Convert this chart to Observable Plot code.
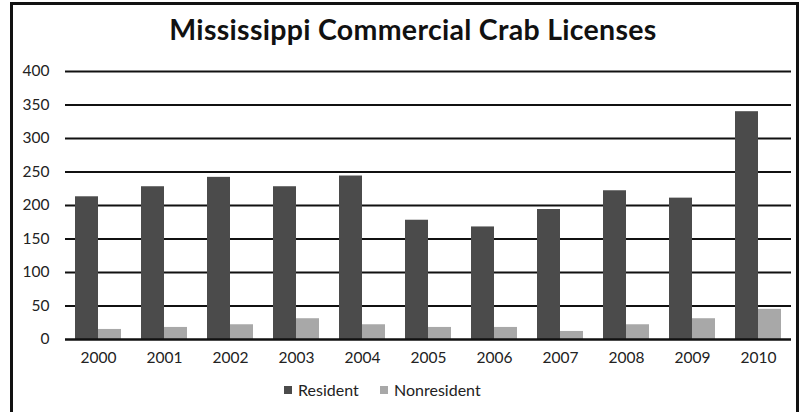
<!DOCTYPE html>
<html>
<head>
<meta charset="utf-8">
<script src="https://cdn.jsdelivr.net/npm/d3@7"></script>
<script src="https://cdn.jsdelivr.net/npm/@observablehq/plot@0.6"></script>
<style>
  html, body { margin: 0; padding: 0; background: #fff; }
  body { width: 801px; height: 412px; overflow: hidden; position: relative; font-family: Lato, "Open Sans", sans-serif; }
  #frame { position: absolute; left: 10px; top: 2px; width: 789px; height: 440px; box-sizing: border-box; border: 3px solid #111; pointer-events: none; }
  #title { height: 56px; box-sizing: border-box; padding-top: 13px; padding-left: 25px; text-align: center; font-weight: bold; font-size: 28.5px; letter-spacing: 0.3px; line-height: 32px; color: #111; white-space: nowrap; }
  #chart svg { display: block; }
  #legend { position: relative; height: 46px; font-size: 16px; color: #222; }
  .item { position: absolute; top: 14px; display: flex; align-items: center; line-height: 20px; }
  .sw { width: 8px; height: 8px; margin-right: 6px; }
</style>
</head>
<body>
<div id="title">Mississippi Commercial Crab Licenses</div>
<div id="chart"></div>
<div id="legend"></div>
<div id="frame"></div>
<script>
const years = ["2000","2001","2002","2003","2004","2005","2006","2007","2008","2009","2010"];
const series = ["Resident", "Nonresident"];
const resident = [213, 228, 242, 228, 244, 178, 168, 194, 222, 211, 340];
const nonresident = [15, 18, 22, 31, 22, 18, 18, 12, 22, 31, 45];
const yTicks = [0, 50, 100, 150, 200, 250, 300, 350, 400];
const colors = ["#4b4b4b", "#a8a8a8"];

const rows = [];
years.forEach((y, i) => {
  rows.push({year: y, series: series[0], value: resident[i]});
  rows.push({year: y, series: series[1], value: nonresident[i]});
});

const chart = Plot.plot({
  width: 801,
  height: 310,
  marginLeft: 61,
  marginRight: 6,
  marginTop: 15,
  marginBottom: 27,
  style: {fontFamily: "Lato, 'Open Sans', sans-serif", fontSize: "15.5px", color: "#222", background: "transparent"},
  facet: {data: rows, x: "year", label: null},
  fx: {domain: years, padding: 0, tickSize: 0, tickPadding: 12, label: null},
  x: {domain: series, paddingInner: 0, paddingOuter: 0.39, axis: null},
  y: {domain: [0, 400], ticks: yTicks, tickSize: 0, tickPadding: 16, label: null},
  color: {domain: series, range: colors},
  marks: [
    Plot.ruleY(yTicks.filter(d => d > 0), {stroke: "#111", strokeWidth: 2}),
    Plot.barY(rows, {x: "series", y: "value", fill: "series"}),
    Plot.ruleY([0], {stroke: "#111", strokeWidth: 2.5})
  ]
});
document.getElementById("chart").appendChild(chart);

const legend = document.getElementById("legend");
const lx = [284, 380];
series.forEach((s, i) => {
  const it = document.createElement("div");
  it.className = "item";
  it.style.left = lx[i] + "px";
  const sw = document.createElement("span");
  sw.className = "sw";
  sw.style.background = colors[i];
  const tx = document.createElement("span");
  tx.textContent = s;
  it.appendChild(sw);
  it.appendChild(tx);
  legend.appendChild(it);
});
</script>
</body>
</html>
